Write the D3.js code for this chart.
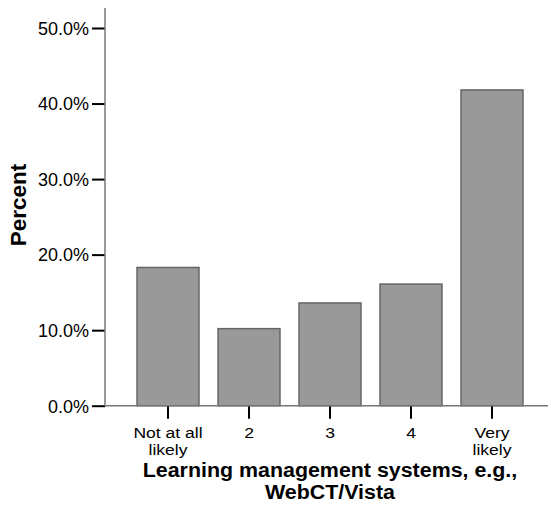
<!DOCTYPE html>
<html>
<head>
<meta charset="utf-8">
<script src="https://cdn.jsdelivr.net/npm/d3@7"></script>
<style>
  body { margin: 0; background: #fff; }
  svg text { font-family: "Liberation Sans", Arial, sans-serif; fill: #000; }
</style>
</head>
<body>
<div class="chart"></div>
<script>
// data
const categories = ["Not at all|likely", "2", "3", "4", "Very|likely"]
const percents = [18.3, 10.2, 13.6, 16.1, 41.8]
const yTicks = [0, 10, 20, 30, 40, 50]

const width = 551, height = 515

const svg = d3.select('.chart')
    .append('svg')
    .attr('width', width)
    .attr('height', height)

// scales
const xScale = d3.scaleBand()
    .domain(categories)
    .range([127.5, 532.5])
    .paddingInner(0.235)
    .paddingOuter(0.1175)

const yScale = d3.scaleLinear()
    .domain([0, 50])
    .range([405.7, 28])

// bars
svg.selectAll('rect.bar')
    .data(percents)
    .join('rect')
    .attr('class', 'bar')
    .attr('x', (d, i) => xScale(categories[i]))
    .attr('y', d => yScale(d))
    .attr('width', xScale.bandwidth())
    .attr('height', d => yScale(0) - yScale(d))
    .attr('fill', '#999999')
    .attr('stroke', '#666666')
    .attr('stroke-width', 1.5)

// y axis
const yAxis = svg.append('g')
    .attr('transform', 'translate(105,0)')
    .call(d3.axisLeft(yScale)
        .tickValues(yTicks)
        .tickSize(13)
        .tickSizeOuter(0)
        .tickPadding(3)
        .tickFormat(d => d.toFixed(1) + '%'))
yAxis.select('.domain').remove()
yAxis.selectAll('.tick line').attr('stroke', '#000').attr('stroke-width', 2)
yAxis.selectAll('.tick text')
    .attr('font-size', 18)
    .attr('fill', '#000')
    .attr('dy', '0.35em')

svg.append('line')
    .attr('x1', 105).attr('x2', 105)
    .attr('y1', 8).attr('y2', yScale(0))
    .attr('stroke', '#777').attr('stroke-width', 1.5)

// x axis
const xAxis = svg.append('g')
    .attr('transform', `translate(0,${yScale(0)})`)
    .call(d3.axisBottom(xScale)
        .tickSize(13)
        .tickSizeOuter(0)
        .tickFormat(''))
xAxis.select('.domain').remove()
xAxis.selectAll('.tick line').attr('stroke', '#000').attr('stroke-width', 2)

svg.append('line')
    .attr('x1', 105).attr('x2', 548)
    .attr('y1', yScale(0)).attr('y2', yScale(0))
    .attr('stroke', '#777').attr('stroke-width', 1.5)

// category labels, one text per line (glyphs are a bit wide in the original)
categories.forEach(c => {
    c.split('|').forEach((line, i) => {
        svg.append('text')
            .attr('class', 'cat')
            .attr('transform', `translate(${xScale(c) + xScale.bandwidth() / 2},${438 + i * 16.8}) scale(1.17,1)`)
            .attr('text-anchor', 'middle')
            .attr('font-size', 15)
            .text(line)
    })
})

// axis titles
svg.append('text')
    .attr('transform', 'translate(26,205) rotate(-90)')
    .attr('text-anchor', 'middle')
    .attr('font-size', 22.5)
    .attr('font-weight', 'bold')
    .text('Percent')

const titleLines = ['Learning management systems, e.g.,', 'WebCT/Vista']
svg.selectAll('text.xtitle')
    .data(titleLines)
    .join('text')
    .attr('class', 'xtitle')
    .attr('transform', (d, i) => `translate(330,${477 + i * 22.4}) scale(1.07,1)`)
    .attr('text-anchor', 'middle')
    .attr('font-size', 20)
    .attr('font-weight', 'bold')
    .text(d => d)
</script>
</body>
</html>
